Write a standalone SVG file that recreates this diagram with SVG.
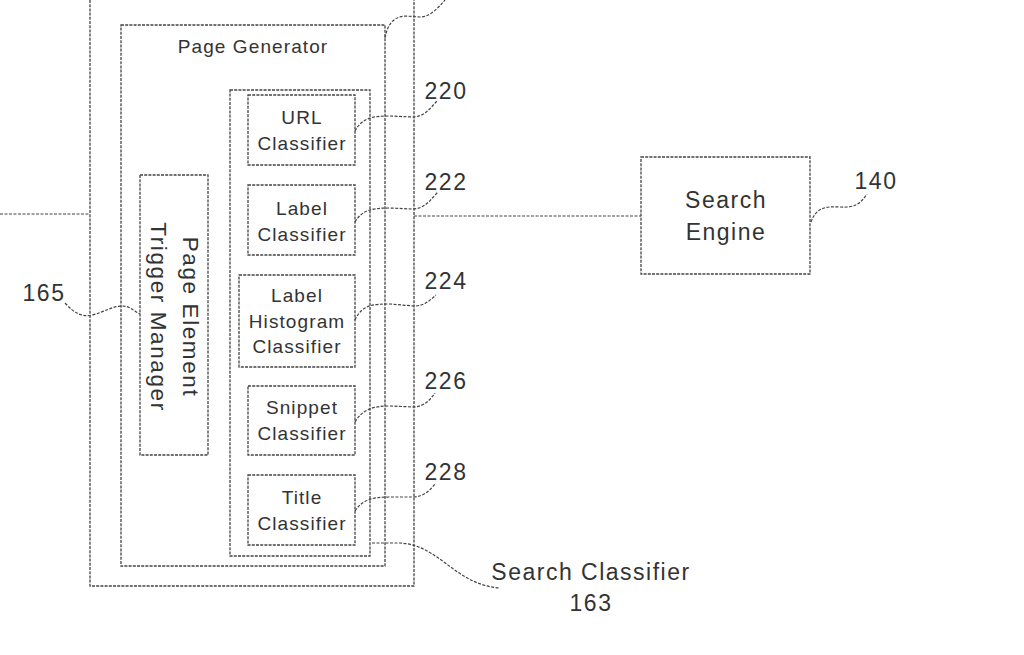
<svg xmlns="http://www.w3.org/2000/svg" width="1024" height="655" viewBox="0 0 1024 655">
<style>
.b{fill:none;stroke:#444;stroke-width:1.3;stroke-dasharray:3 1.2}
.c{fill:none;stroke:#444;stroke-width:1.2;stroke-dasharray:3 1.5}
.t{font-family:"Liberation Sans",Arial,sans-serif;fill:#333;text-anchor:middle}
.s{font-size:19px;letter-spacing:1.1px}
.m{font-size:22.5px;letter-spacing:1.6px}
.n{font-size:23px;letter-spacing:1.5px}
</style>
<rect width="1024" height="655" fill="#fff"/>
<g id="outer-box"><rect class="b" x="90" y="-10" width="324" height="596"/></g>
<g id="page-generator"><rect class="b" x="121" y="25" width="264" height="541"/>
<text class="t s" x="253" y="53">Page Generator</text></g>
<g id="search-classifier"><rect class="b" x="230" y="90" width="140" height="466" stroke-dasharray="2 2"/>
<text class="t n" x="591" y="580">Search Classifier</text>
<text class="t n" x="591" y="611">163</text></g>
<g id="url-classifier"><rect class="b" x="248" y="95" width="107" height="70"/>
<text class="t s" x="302" y="124">URL</text><text class="t s" x="302" y="150">Classifier</text>
<text class="t n" x="446" y="99">220</text></g>
<g id="label-classifier"><rect class="b" x="248" y="185" width="107" height="70"/>
<text class="t s" x="302" y="215">Label</text><text class="t s" x="302" y="241">Classifier</text>
<text class="t n" x="446" y="190">222</text></g>
<g id="label-histogram-classifier"><rect class="b" x="239" y="275" width="116" height="92"/>
<text class="t s" x="297" y="302">Label</text><text class="t s" x="297" y="328">Histogram</text><text class="t s" x="297" y="353">Classifier</text>
<text class="t n" x="446" y="289">224</text></g>
<g id="snippet-classifier"><rect class="b" x="248" y="386" width="107" height="69"/>
<text class="t s" x="302" y="414">Snippet</text><text class="t s" x="302" y="440">Classifier</text>
<text class="t n" x="446" y="389">226</text></g>
<g id="title-classifier"><rect class="b" x="248" y="475" width="107" height="70"/>
<text class="t s" x="302" y="504">Title</text><text class="t s" x="302" y="530">Classifier</text>
<text class="t n" x="446" y="480">228</text></g>
<g id="trigger-manager"><rect class="b" x="140" y="175" width="68" height="280"/>
<g transform="translate(174,317) rotate(90)">
<text class="t m" x="0" y="-9">Page Element</text>
<text class="t m" x="0" y="23">Trigger Manager</text></g>
<text class="t n" x="44" y="301">165</text></g>
<g id="search-engine"><rect class="b" x="641" y="157" width="169" height="117"/>
<text class="t n" x="726" y="208">Search</text><text class="t n" x="726" y="240">Engine</text>
<text class="t n" x="876" y="189">140</text></g>
<g id="connectors">
<line class="c" x1="0" y1="214" x2="90" y2="214"/>
<line class="c" x1="414" y1="216" x2="641" y2="216"/>
<path class="c" d="M355,131 C362,118 372,116 390,116 L412,117 C425,117 430,108 438,100"/>
<path class="c" d="M355,222 C362,210 372,208 390,208 L412,209 C425,209 430,200 438,192"/>
<path class="c" d="M355,320 C362,305 372,304 390,304 L414,306 C425,306 430,300 436,295"/>
<path class="c" d="M355,422 C362,410 372,406 390,406 L414,407 C425,406 430,400 435,393"/>
<path class="c" d="M355,511 C362,500 372,497 390,497 L414,497 C425,496 430,490 435,484"/>
<path class="c" d="M372,543 L400,543 C440,545 455,585 500,588"/>
<path class="c" d="M65,303 C75,314 82,317 92,315 C105,312 112,306 122,306 C130,306 134,311 140,314"/>
<path class="c" d="M811,222 C816,208 825,206 840,207 C855,208 860,204 867,194"/>
<path class="c" d="M385,38 C388,22 395,17 405,16 L420,17 C430,17 438,8 445,0"/>
</g>
</svg>
